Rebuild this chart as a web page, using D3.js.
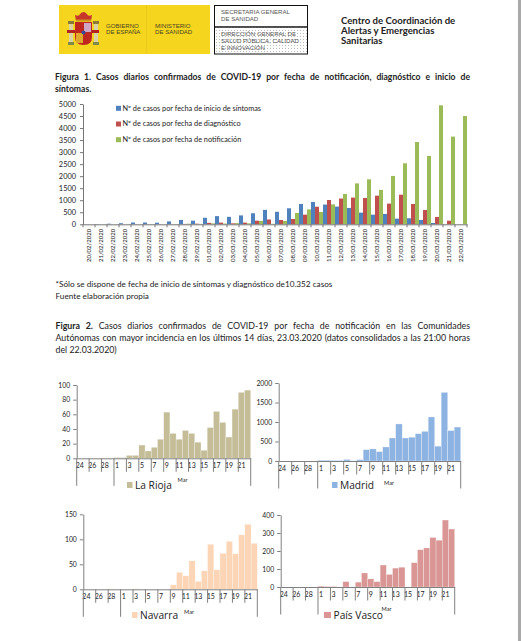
<!DOCTYPE html>
<html lang="es">
<head>
<meta charset="utf-8">
<script src="https://cdn.jsdelivr.net/npm/d3@7"></script>
<style>
html,body{margin:0;padding:0;background:#fff;overflow:hidden}
svg{display:block}
text{font-family:Lato,"Open Sans",sans-serif;fill:#222}
</style>
</head>
<body>
<svg id="page" width="521" height="641"></svg>
<script>
// ---------- data ----------
const dailyDates = ["20/02/2020","21/02/2020","22/02/2020","23/02/2020","24/02/2020","25/02/2020","26/02/2020","27/02/2020","28/02/2020","29/02/2020","01/03/2020","02/03/2020","03/03/2020","04/03/2020","05/03/2020","06/03/2020","07/03/2020","08/03/2020","09/03/2020","10/03/2020","11/03/2020","12/03/2020","13/03/2020","14/03/2020","15/03/2020","16/03/2020","17/03/2020","18/03/2020","19/03/2020","20/03/2020","21/03/2020","22/03/2020"];
const bySymptoms = [5,10,25,45,75,75,65,120,180,150,270,340,310,370,460,600,520,665,845,930,820,735,680,485,400,430,235,250,180,55,5,0];
const byDiagnosis = [0,0,0,0,5,5,5,5,15,25,60,70,40,70,150,200,180,220,400,730,1010,1070,1110,1095,1190,860,1230,845,595,305,150,5];
const byNotification = [2,2,5,5,5,5,5,10,25,15,40,30,50,40,140,20,140,470,620,510,830,1260,1700,1870,1430,2010,2535,3420,2840,4945,3645,4500];
const fig1Legend = ["Nº de casos por fecha de inicio de síntomas","Nº de casos por fecha de diagnóstico","Nº de casos por fecha de notificación"];
const fig1Ticks = [0,500,1000,1500,2000,2500,3000,3500,4000,4500,5000];

const regionDays = ["24","25","26","27","28","29","1","2","3","4","5","6","7","8","9","10","11","12","13","14","15","16","17","18","19","20","21","22"];
const laRioja = [0,0,0,0,0,0,1,1,4,4,18,10,15,26,63,34,26,38,34,22,11,42,64,49,29,67,90,93];
const madrid = [0,0,0,0,0,0,20,20,15,15,40,5,35,290,310,240,360,590,950,590,610,700,760,1130,380,1760,780,870];
const navarra = [0,0,0,0,1,0,0,0,1,0,0,0,0,0,9,34,27,57,16,37,90,39,72,96,71,109,130,92];
const paisVasco = [0,0,0,0,0,0,5,3,3,0,30,0,27,78,45,30,122,70,105,110,0,135,207,217,275,260,372,322];
const laRiojaTicks = [0,20,40,60,80,100];
const madridTicks = [0,500,1000,1500,2000];
const navarraTicks = [0,50,100,150];
const paisVascoTicks = [0,100,200,300,400];

const svg = d3.select("#page");
const plainNumber = d3.format("d");

// ---------- page helpers ----------
function justified(x, y, width, parts, size) {
  const t = svg.append("text").attr("x", x).attr("y", y).attr("font-size", size);
  parts.forEach(p => t.append("tspan").attr("font-weight", p.bold ? 700 : 400).text(p.text));
  if (width) {
    const gaps = parts.map(p => p.text).join("").split(" ").length - 1;
    const len = t.node().getComputedTextLength();
    t.attr("word-spacing", (width - len) / gaps);
  }
  return t;
}
function plain(x, y, str, size, opts = {}) {
  return svg.append("text").attr("x", x).attr("y", y).attr("font-size", size)
    .attr("font-weight", opts.weight || 400)
    .attr("text-anchor", opts.anchor || "start")
    .style("font-family", opts.family || null)
    .style("fill", opts.fill || null)
    .text(str);
}

// ---------- header ----------
const defs = svg.append("defs");
const dots = defs.append("pattern").attr("id", "dots").attr("width", 3).attr("height", 3).attr("patternUnits", "userSpaceOnUse");
dots.append("rect").attr("width", 1).attr("height", 1).attr("fill", "#bbb");

svg.append("rect").attr("x", 518).attr("y", 0).attr("width", 3).attr("height", 641).attr("fill", "#a9a9a9");
svg.append("rect").attr("x", 59).attr("y", 5).attr("width", 151).attr("height", 49).attr("fill", "#f6d51f");
svg.append("line").attr("x1", 146.5).attr("x2", 146.5).attr("y1", 5).attr("y2", 54).attr("stroke", "#ecc81a");

// coat of arms
const arms = svg.append("g");
[69, 94].forEach(x => {
  arms.append("rect").attr("x", x).attr("y", 23).attr("width", 4).attr("height", 21).attr("fill", "#d9d2a6");
  arms.append("rect").attr("x", x - 1).attr("y", 21).attr("width", 6).attr("height", 3).attr("fill", "#8a7a33");
  arms.append("rect").attr("x", x - 1).attr("y", 42).attr("width", 6).attr("height", 3).attr("fill", "#7f8a4a");
});
arms.append("rect").attr("x", 67).attr("y", 30).attr("width", 32).attr("height", 3).attr("fill", "#b3261e");
arms.append("path").attr("d", "M75 22H92V37Q92 45 83.5 45Q75 45 75 37Z").attr("fill", "#c0281f");
arms.append("rect").attr("x", 84).attr("y", 23).attr("width", 7).attr("height", 9).attr("fill", "#cfa7c4");
arms.append("rect").attr("x", 76).attr("y", 33).attr("width", 7).attr("height", 10).attr("fill", "#e0a92e");
arms.append("circle").attr("cx", 83.5).attr("cy", 32.5).attr("r", 2).attr("fill", "#3a4b9a");
arms.append("path").attr("d", "M76 21L75 15Q79 17 80 14Q83.5 10 87 14Q88 17 92 15L91 21Z").attr("fill", "#c7362a");
arms.append("rect").attr("x", 76).attr("y", 19.5).attr("width", 15).attr("height", 2).attr("fill", "#c9961e");

const govFont = "'Liberation Sans',sans-serif";
plain(106, 27.5, "GOBIERNO", 6.1, {family: govFont, fill: "#4a4420"});
plain(106, 34, "DE ESPAÑA", 6.1, {family: govFont, fill: "#4a4420"});
plain(155, 27.5, "MINISTERIO", 6.1, {family: govFont, fill: "#4a4420"});
plain(155, 34, "DE SANIDAD", 6.1, {family: govFont, fill: "#4a4420"});

svg.append("rect").attr("x", 214.5).attr("y", 5.5).attr("width", 93).attr("height", 21.5).attr("fill", "#fff").attr("stroke", "#111");
svg.append("rect").attr("x", 214.5).attr("y", 27).attr("width", 93).attr("height", 27).attr("fill", "url(#dots)").attr("stroke", "#111");
plain(221, 13.5, "SECRETARIA GENERAL", 6.1, {family: govFont, fill: "#555"});
plain(221, 21, "DE SANIDAD", 6.1, {family: govFont, fill: "#555"});
plain(221, 35.5, "DIRECCIÓN GENERAL DE", 6.1, {family: govFont, fill: "#555"});
plain(221, 42.5, "SALUD PÚBLICA, CALIDAD", 6.1, {family: govFont, fill: "#555"});
plain(221, 50, "E INNOVACIÓN", 6.1, {family: govFont, fill: "#555"});

plain(341, 24, "Centro de Coordinación de", 9.6, {weight: 700});
plain(341, 34, "Alertas y Emergencias", 9.6, {weight: 700});
plain(341, 44, "Sanitarias", 9.6, {weight: 700});

// ---------- text blocks ----------
justified(55, 80, 415, [{text: "Figura 1.", bold: true}, {text: " Casos diarios confirmados de COVID-19 por fecha de notificación, diagnóstico e inicio de", bold: true}], 8.6);
justified(55, 92, 0, [{text: "síntomas.", bold: true}], 8.6);
justified(55.5, 287, 0, [{text: "*Sólo se dispone de fecha de inicio de síntomas y diagnóstico de10.352 casos"}], 8.2);
justified(55.5, 298.5, 0, [{text: "Fuente elaboración propia"}], 8.2);
justified(55.5, 328.5, 414.5, [{text: "Figura 2.", bold: true}, {text: " Casos diarios confirmados de COVID-19 por fecha de notificación en las Comunidades"}], 8.8);
justified(55.5, 340.5, 414.5, [{text: "Autónomas con mayor incidencia en los últimos 14 días, 23.03.2020 (datos consolidados a las 21:00 horas"}], 8.8);
justified(55.5, 352.5, 0, [{text: "del 22.03.2020)"}], 8.8);

// ---------- figure 1 ----------
const fig1 = {left: 83, right: 467, top: 104, bottom: 224.3};
const fig1Series = [
  {values: bySymptoms, color: "#4f81bd"},
  {values: byDiagnosis, color: "#c0504d"},
  {values: byNotification, color: "#9bbb59"}
];
const x1 = d3.scaleBand().domain(dailyDates).range([fig1.left, fig1.right]).padding(0);
const x1Inner = d3.scaleBand().domain(d3.range(3)).range([0, x1.bandwidth()]);
const y1 = d3.scaleLinear().domain([0, 5000]).range([fig1.bottom, fig1.top]);

const g1 = svg.append("g");
fig1Series.forEach((s, i) => {
  g1.append("g").selectAll("rect").data(s.values).join("rect")
    .attr("x", (d, k) => x1(dailyDates[k]) + x1Inner(i))
    .attr("width", x1Inner.bandwidth())
    .attr("y", d => y1(d))
    .attr("height", d => y1(0) - y1(d))
    .attr("fill", s.color);
});

const yAxis1 = g1.append("g").attr("transform", `translate(${fig1.left},0)`)
  .call(d3.axisLeft(y1).tickValues(fig1Ticks).tickFormat(plainNumber).tickSize(3).tickPadding(4).tickSizeOuter(0));
yAxis1.selectAll("text").attr("font-size", 7.4).style("font-family", "Lato,sans-serif");
yAxis1.selectAll("line,path").attr("stroke", "#777");

const xAxis1 = g1.append("g").attr("transform", `translate(0,${fig1.bottom})`)
  .call(d3.axisBottom(x1).tickSize(0).tickPadding(0));
xAxis1.select("path").attr("stroke", "#777");
xAxis1.selectAll("text")
  .attr("font-size", 6).attr("text-anchor", "end")
  .attr("transform", "rotate(-90)").attr("x", -4.5).attr("y", 0).attr("dy", "0.32em")
  .style("font-family", "Lato,sans-serif").style("fill", "#111");
g1.append("g").selectAll("line").data(d3.range(dailyDates.length + 1)).join("line")
  .attr("x1", d => fig1.left + d * x1.step()).attr("x2", d => fig1.left + d * x1.step())
  .attr("y1", fig1.bottom).attr("y2", fig1.bottom + 3).attr("stroke", "#777");

const legendY = d3.scalePoint().domain(fig1Legend).range([108.3, 139.7]);
const lg = g1.append("g").selectAll("g").data(fig1Legend).join("g")
  .attr("transform", d => `translate(116,${legendY(d)})`);
lg.append("rect").attr("y", -2.5).attr("width", 5).attr("height", 5).attr("fill", (d, i) => fig1Series[i].color);
lg.append("text").attr("x", 6.5).attr("dy", "0.33em").attr("font-size", 7.3).text(d => d);

// ---------- regional panels ----------
function panel(cfg) {
  const x = d3.scaleBand().domain(regionDays).range([cfg.left, cfg.right]).padding(0);
  const y = d3.scaleLinear().domain([0, d3.max(cfg.ticks)]).range([cfg.bottom, cfg.top]);
  const g = svg.append("g");

  g.append("g").selectAll("rect").data(cfg.values).join("rect")
    .attr("x", (d, i) => x(regionDays[i]))
    .attr("width", x.bandwidth())
    .attr("y", d => y(d))
    .attr("height", d => y(0) - y(d))
    .attr("fill", cfg.color)
    .attr("stroke", "#ffffff").attr("stroke-opacity", 0.55).attr("stroke-width", 0.5);

  const ya = g.append("g").attr("transform", `translate(${cfg.left},0)`)
    .call(d3.axisLeft(y).tickValues(cfg.ticks).tickFormat(plainNumber).tickSize(3.5).tickPadding(3).tickSizeOuter(0));
  ya.selectAll("text").attr("font-size", 6.8).style("font-family", "Lato,sans-serif");
  ya.selectAll("line,path").attr("stroke", "#808080");

  const shown = regionDays.filter((d, i) => i % 2 === 0);
  const xa = g.append("g").attr("transform", `translate(0,${cfg.bottom})`)
    .call(d3.axisBottom(x).tickValues(shown).tickSize(0).tickPadding(5).tickSizeOuter(0));
  xa.select("path").attr("stroke", "#808080");
  xa.selectAll("text").attr("font-size", 7).style("font-family", "Lato,sans-serif");

  // short separators every two days, long separators around the month groups
  g.append("g").selectAll("line").data(d3.range(0, regionDays.length + 1, 2)).join("line")
    .attr("x1", d => cfg.left + d * x.step()).attr("x2", d => cfg.left + d * x.step())
    .attr("y1", cfg.bottom)
    .attr("y2", d => cfg.bottom + (d === 0 || d === 6 || d === regionDays.length ? 27.5 : 13.5))
    .attr("stroke", "#808080");

  plain(cfg.monthX, cfg.monthY, "Mar", 5.6, {anchor: "middle"});
  g.append("rect").attr("x", cfg.swatchX).attr("y", cfg.legendY).attr("width", cfg.swatchW).attr("height", 6).attr("fill", cfg.color);
  plain(cfg.swatchX + cfg.swatchW + 2.5, cfg.legendY + 6.5, cfg.name, 10.2, {family: "'Open Sans',sans-serif"});
}

panel({name: "La Rioja", values: laRioja, ticks: laRiojaTicks, color: "#c4bd97",
  left: 76.7, right: 250.7, top: 385, bottom: 458.3, monthX: 182.5, monthY: 482, swatchX: 127, swatchW: 5.5, legendY: 482});
panel({name: "Madrid", values: madrid, ticks: madridTicks, color: "#8db3e2",
  left: 278.7, right: 460.7, top: 383, bottom: 461, monthX: 389, monthY: 485, swatchX: 332, swatchW: 5.5, legendY: 482});
panel({name: "Navarra", values: navarra, ticks: navarraTicks, color: "#fbd5b5",
  left: 83.3, right: 257.3, top: 514.3, bottom: 589.3, monthX: 189, monthY: 614, swatchX: 132, swatchW: 5.5, legendY: 612});
panel({name: "País Vasco", values: paisVasco, ticks: paisVascoTicks, color: "#d99694",
  left: 280.7, right: 454.7, top: 515, bottom: 587, monthX: 386.5, monthY: 611, swatchX: 324, swatchW: 7, legendY: 612});
</script>
</body>
</html>
